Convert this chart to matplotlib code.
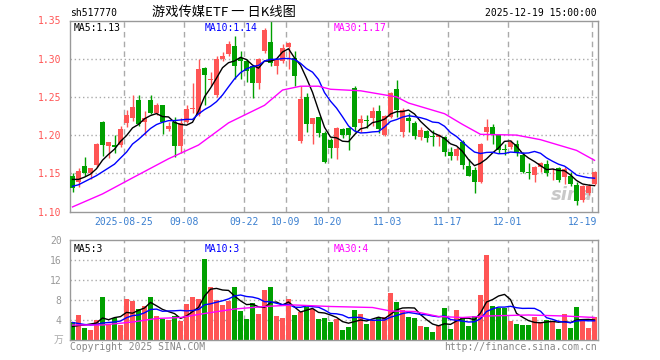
import numpy as np
import pandas as pd
import matplotlib
matplotlib.use("Agg")
import matplotlib.pyplot as plt

# daily K data, 2025-08-12 .. 2025-12-19 (88 trading days)
opens = [1.146, 1.138, 1.160, 1.150, 1.161, 1.217, 1.186, 1.187, 1.187, 1.216,
         1.223, 1.246, 1.217, 1.246, 1.229, 1.239, 1.208, 1.217, 1.186, 1.217,
         1.234, 1.228, 1.288, 1.272, 1.252, 1.299, 1.306, 1.317, 1.301, 1.297,
         1.290, 1.268, 1.310, 1.322, 1.290, 1.297, 1.315, 1.301, 1.192, 1.250,
         1.214, 1.224, 1.203, 1.194, 1.183, 1.208, 1.209, 1.262, 1.216, 1.220,
         1.223, 1.232, 1.200, 1.224, 1.260, 1.204, 1.223, 1.216, 1.198, 1.206,
         1.198, 1.197, 1.198, 1.178, 1.172, 1.191, 1.159, 1.154, 1.138, 1.204,
         1.211, 1.200, 1.182, 1.184, 1.189, 1.174, 1.152, 1.148, 1.158, 1.162,
         1.155, 1.157, 1.145, 1.146, 1.135, 1.115, 1.124, 1.136]
closes = [1.131, 1.153, 1.151, 1.157, 1.188, 1.187, 1.191, 1.185, 1.208, 1.226,
          1.237, 1.214, 1.222, 1.229, 1.239, 1.217, 1.212, 1.186, 1.216, 1.234,
          1.236, 1.286, 1.279, 1.273, 1.299, 1.304, 1.319, 1.290, 1.297, 1.284,
          1.268, 1.299, 1.337, 1.295, 1.299, 1.314, 1.320, 1.277, 1.247, 1.214,
          1.222, 1.203, 1.165, 1.183, 1.209, 1.200, 1.200, 1.211, 1.221, 1.218,
          1.232, 1.208, 1.225, 1.255, 1.233, 1.233, 1.218, 1.199, 1.207, 1.196,
          1.197, 1.200, 1.178, 1.172, 1.182, 1.161, 1.147, 1.138, 1.188, 1.210,
          1.200, 1.180, 1.181, 1.191, 1.176, 1.152, 1.150, 1.158, 1.164, 1.150,
          1.156, 1.141, 1.156, 1.136, 1.114, 1.133, 1.134, 1.152]
highs = [1.151, 1.157, 1.171, 1.157, 1.190, 1.218, 1.191, 1.200, 1.212, 1.233,
         1.252, 1.253, 1.231, 1.252, 1.242, 1.240, 1.217, 1.224, 1.222, 1.239,
         1.268, 1.300, 1.289, 1.282, 1.304, 1.309, 1.323, 1.330, 1.310, 1.300,
         1.292, 1.301, 1.340, 1.350, 1.300, 1.319, 1.322, 1.310, 1.264, 1.255,
         1.222, 1.224, 1.206, 1.196, 1.211, 1.209, 1.210, 1.264, 1.226, 1.226,
         1.237, 1.239, 1.226, 1.257, 1.272, 1.235, 1.229, 1.218, 1.210, 1.207,
         1.207, 1.201, 1.199, 1.184, 1.184, 1.193, 1.169, 1.158, 1.190, 1.221,
         1.215, 1.201, 1.189, 1.194, 1.194, 1.178, 1.163, 1.160, 1.165, 1.167,
         1.157, 1.158, 1.158, 1.152, 1.139, 1.135, 1.136, 1.153]
lows = [1.125, 1.132, 1.146, 1.143, 1.158, 1.172, 1.170, 1.176, 1.185, 1.211,
        1.219, 1.212, 1.200, 1.227, 1.226, 1.202, 1.206, 1.171, 1.176, 1.216,
        1.229, 1.225, 1.239, 1.264, 1.250, 1.297, 1.304, 1.273, 1.273, 1.270,
        1.248, 1.260, 1.307, 1.290, 1.280, 1.295, 1.286, 1.264, 1.190, 1.204,
        1.189, 1.198, 1.163, 1.170, 1.169, 1.196, 1.180, 1.204, 1.204, 1.209,
        1.212, 1.203, 1.199, 1.222, 1.224, 1.198, 1.204, 1.195, 1.193, 1.191,
        1.186, 1.186, 1.173, 1.168, 1.168, 1.156, 1.146, 1.124, 1.137, 1.193,
        1.189, 1.176, 1.174, 1.182, 1.172, 1.150, 1.142, 1.139, 1.152, 1.146,
        1.141, 1.138, 1.136, 1.134, 1.108, 1.113, 1.122, 1.135]
volumes = [3.6, 5.0, 2.4, 2.0, 4.0, 8.6, 3.3, 4.5, 3.0, 8.2,
           7.8, 6.2, 6.8, 8.6, 4.8, 4.2, 4.0, 4.8, 3.8, 7.2,
           8.6, 8.2, 16.2, 10.6, 8.0, 7.0, 7.8, 10.6, 5.8, 4.2,
           7.4, 5.2, 10.0, 10.6, 4.8, 4.4, 8.2, 5.0, 5.6, 6.6,
           6.2, 4.2, 4.4, 3.6, 4.2, 2.0, 2.6, 6.0, 5.2, 3.2,
           4.0, 4.4, 4.6, 9.4, 7.6, 6.0, 4.6, 4.4, 2.8, 2.6,
           1.6, 2.8, 6.4, 2.2, 6.0, 4.4, 2.8, 4.8, 9.0, 17.0,
           6.8, 6.4, 6.4, 3.8, 3.2, 3.0, 3.0, 4.6, 3.4, 4.0,
           3.6, 2.2, 5.2, 2.4, 6.6, 4.0, 2.4, 4.6]

# moving averages: first points depend on days before the window
ma5_head = [1.142, 1.142, 1.145, 1.149]
ma10_head = [1.133, 1.135, 1.139, 1.143, 1.147, 1.152, 1.157, 1.162, 1.170]
ma30_idx = [0, 5, 10, 16, 21, 26, 32, 35, 38, 41, 43, 48, 54, 56, 59, 62, 65, 68, 74, 78, 84, 87]
ma30_val = [1.106, 1.123, 1.144, 1.169, 1.187, 1.216, 1.239, 1.259, 1.264, 1.264, 1.260,
            1.258, 1.250, 1.242, 1.235, 1.228, 1.214, 1.201, 1.200, 1.194, 1.180, 1.167]
vma5_head = [2.7, 2.9, 3.0, 3.2]
vma10_head = [3.5, 3.3, 3.1, 3.0, 3.1, 3.4, 3.5, 3.6, 3.8]
vma30_idx = [0, 5, 10, 14, 18, 22, 27, 32, 37, 43, 50, 53, 57, 61, 65, 69, 76, 82, 87]
vma30_val = [3.0, 3.0, 3.6, 4.3, 4.5, 5.3, 6.2, 6.7, 7.0, 6.7, 6.5, 5.8, 5.7, 4.7, 4.5,
             4.8, 5.0, 4.8, 4.5]

tick_idx = [9, 19, 29, 36, 43, 53, 63, 73, 87]
tick_labels = ["2025-08-25", "09-08", "09-22", "10-09", "10-20", "11-03", "11-17", "12-01", "12-19"]
price_ticks = [1.10, 1.15, 1.20, 1.25, 1.30, 1.35]
vol_ticks = [4, 8, 12, 16, 20]

RED = "#ff5555"
GREEN = "#00a000"
FRAME = "#999999"
MONO = "DejaVu Sans Mono"
CJK = ["Noto Sans CJK SC", "DejaVu Sans"]

o = np.array(opens); c = np.array(closes)
n = len(o)
idx = np.arange(n)
cols = np.where(c >= o, RED, GREEN)


def rolling_with_head(vals, w, head):
    m = pd.Series(vals).rolling(w).mean().to_numpy()
    m[:len(head)] = head
    return m


ma5 = rolling_with_head(closes, 5, ma5_head)
ma10 = rolling_with_head(closes, 10, ma10_head)
vma5 = rolling_with_head(volumes, 5, vma5_head)
vma10 = rolling_with_head(volumes, 10, vma10_head)

W, H = 660, 360
fig = plt.figure(figsize=(6.6, 3.6), dpi=100)


def box(l, t, r, b):
    return [l / W, 1 - b / H, (r - l) / W, (b - t) / H]


ax = fig.add_axes(box(70, 20.5, 598, 211.5))
axv = fig.add_axes(box(70, 240, 598, 340))
xl = (-0.42, n - 0.42)
grid_x = [i - 0.42 for i in tick_idx]

for a in (ax, axv):
    a.set_xlim(*xl)
    for s in a.spines.values():
        s.set_color(FRAME)
        s.set_linewidth(1)
    a.tick_params(length=0)
    a.set_xticks([])
    for gx in grid_x:
        a.axvline(gx, color="#aaaaaa", lw=1, ls=(0, (4, 3)), zorder=0)

# price panel
ax.set_ylim(1.10, 1.35)
for p in price_ticks[1:-1]:
    ax.axhline(p, color="#aaaaaa", lw=1, ls=(0, (1, 2)), zorder=0)
ax.set_yticks(price_ticks)
ax.set_yticklabels([f"{p:.2f}" for p in price_ticks], color=RED, fontfamily=MONO, fontsize=7)
ax.tick_params(axis="y", pad=6)
ax.vlines(idx, lows, highs, colors=cols, lw=1, zorder=2)
ax.bar(idx, np.maximum(np.abs(c - o), 0.0012), bottom=np.minimum(o, c), width=0.82,
       color=cols, linewidth=0, zorder=3)
ax.plot(idx, ma5, color="black", lw=1, zorder=4)
ax.plot(idx, ma10, color="blue", lw=1, zorder=4)
ax.plot(ma30_idx, ma30_val, color="magenta", lw=1, zorder=4)

for gx, lab in zip(grid_x, tick_labels):
    ha = "center" if lab != "12-19" else "right"
    xx = gx if lab != "12-19" else n - 0.6
    ax.text(xx, -0.03, lab, transform=ax.get_xaxis_transform(), ha=ha, va="top",
            color="#3a7fd0", fontfamily=MONO, fontsize=7)

ax.text(0.006, 0.985, "MA5:1.13", transform=ax.transAxes, va="top", color="black",
        fontfamily=MONO, fontsize=7)
ax.text(0.255, 0.985, "MA10:1.14", transform=ax.transAxes, va="top", color="blue",
        fontfamily=MONO, fontsize=7)
ax.text(0.5, 0.985, "MA30:1.17", transform=ax.transAxes, va="top", color="magenta",
        fontfamily=MONO, fontsize=7)
ax.text(0.99, 0.04, "sina", transform=ax.transAxes, ha="right", va="bottom", color="#c8c8c8",
        fontsize=13, fontweight="bold", fontstyle="italic", zorder=1)

# volume panel
axv.set_ylim(0, 20)
for v in vol_ticks[:-1]:
    axv.axhline(v, color="#aaaaaa", lw=1, ls=(0, (1, 2)), zorder=0)
axv.set_yticks(vol_ticks)
axv.set_yticklabels([str(v) for v in vol_ticks], color="#999999", fontfamily=MONO, fontsize=7)
axv.tick_params(axis="y", pad=6)
axv.bar(idx, volumes, width=0.82, color=cols, linewidth=0, zorder=2)
axv.plot(idx, vma5, color="black", lw=1, zorder=4)
axv.plot(idx, vma10, color="blue", lw=1, zorder=4)
axv.plot(vma30_idx, vma30_val, color="magenta", lw=1, zorder=4)
axv.text(0.006, 0.96, "MA5:3", transform=axv.transAxes, va="top", color="black",
         fontfamily=MONO, fontsize=7)
axv.text(0.255, 0.96, "MA10:3", transform=axv.transAxes, va="top", color="blue",
         fontfamily=MONO, fontsize=7)
axv.text(0.5, 0.96, "MA30:4", transform=axv.transAxes, va="top", color="magenta",
         fontfamily=MONO, fontsize=7)
axv.text(-0.012, 0.0, "万", transform=axv.transAxes, ha="right", va="center", color="#aaaaaa",
         family=CJK, fontsize=7)

# header / footer
fig.text(70 / W, 1 - 13 / H, "sh517770", va="center", color="black", fontfamily=MONO, fontsize=7)
fig.text(224 / W, 1 - 12 / H, "游戏传媒ETF 一 日K线图", ha="center", va="center", color="black",
         family=CJK, fontsize=9.5)
fig.text(597 / W, 1 - 13 / H, "2025-12-19 15:00:00", ha="right", va="center", color="black",
         fontfamily=MONO, fontsize=7)
fig.text(70 / W, 1 - 347 / H, "Copyright 2025 SINA.COM", va="center", color="#888888",
         fontfamily=MONO, fontsize=7)
fig.text(597 / W, 1 - 347 / H, "http://finance.sina.com.cn", ha="right", va="center",
         color="#888888", fontfamily=MONO, fontsize=7)

fig.savefig("out.png", dpi=100)
